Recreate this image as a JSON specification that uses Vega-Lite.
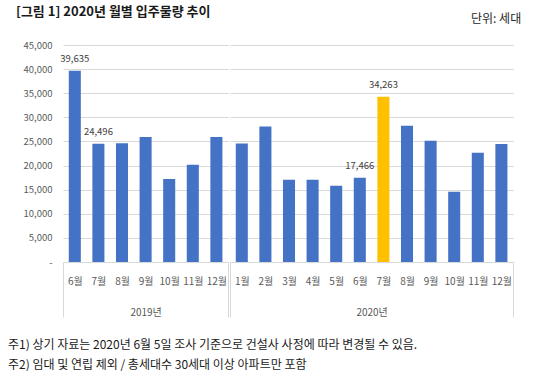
{
  "$schema": "https://vega.github.io/schema/vega-lite/v6.json",
  "background": "white",
  "padding": {"left": 8, "top": 6, "right": 0, "bottom": 0},
  "datasets": {
    "months": [
      {"year": "2019년", "key": "2019-06", "value": 39635, "group": "normal", "annotated": true},
      {"year": "2019년", "key": "2019-07", "value": 24496, "group": "normal", "annotated": true},
      {"year": "2019년", "key": "2019-08", "value": 24600, "group": "normal", "annotated": false},
      {"year": "2019년", "key": "2019-09", "value": 25900, "group": "normal", "annotated": false},
      {"year": "2019년", "key": "2019-10", "value": 17200, "group": "normal", "annotated": false},
      {"year": "2019년", "key": "2019-11", "value": 20150, "group": "normal", "annotated": false},
      {"year": "2019년", "key": "2019-12", "value": 25900, "group": "normal", "annotated": false},
      {"year": "2020년", "key": "2020-01", "value": 24550, "group": "normal", "annotated": false},
      {"year": "2020년", "key": "2020-02", "value": 28100, "group": "normal", "annotated": false},
      {"year": "2020년", "key": "2020-03", "value": 17050, "group": "normal", "annotated": false},
      {"year": "2020년", "key": "2020-04", "value": 17050, "group": "normal", "annotated": false},
      {"year": "2020년", "key": "2020-05", "value": 15800, "group": "normal", "annotated": false},
      {"year": "2020년", "key": "2020-06", "value": 17466, "group": "normal", "annotated": true},
      {"year": "2020년", "key": "2020-07", "value": 34263, "group": "current", "annotated": true},
      {"year": "2020년", "key": "2020-08", "value": 28250, "group": "normal", "annotated": false},
      {"year": "2020년", "key": "2020-09", "value": 25150, "group": "normal", "annotated": false},
      {"year": "2020년", "key": "2020-10", "value": 14550, "group": "normal", "annotated": false},
      {"year": "2020년", "key": "2020-11", "value": 22650, "group": "normal", "annotated": false},
      {"year": "2020년", "key": "2020-12", "value": 24450, "group": "normal", "annotated": false}
    ]
  },
  "title": {
    "text": [
      "주1) 상기 자료는 2020년 6월 5일 조사 기준으로 건설사 사정에 따라 변경될 수 있음.",
      "주2) 임대 및 연립 제외 / 총세대수 30세대 이상 아파트만 포함"
    ],
    "orient": "bottom",
    "anchor": "start",
    "frame": "bounds",
    "dx": -8,
    "offset": 22,
    "fontSize": 12,
    "fontWeight": "normal",
    "lineHeight": 20.5,
    "color": "#1a1a1a",
    "font": "Noto Sans CJK KR"
  },
  "spacing": 0,
  "hconcat": [
    {
      "data": {"name": "months"},
      "transform": [{"filter": "datum.year === '2019년'"}],
      "width": 165.2,
      "height": 217,
      "title": {
        "text": "[그림 1] 2020년 월별 입주물량 추이",
        "anchor": "start",
        "frame": "group",
        "fontSize": 13,
        "fontWeight": "bold",
        "color": "#1a1a1a",
        "font": "Noto Sans CJK KR",
        "dx": -47,
        "offset": 21
      },
      "encoding": {
        "x": {
          "field": "key",
          "type": "ordinal",
          "scale": {"paddingInner": 0, "paddingOuter": 0},
          "axis": {
            "title": "2019년",
            "titleY": 50,
            "titleBaseline": "middle",
            "titleFontSize": 10,
            "titleFontWeight": "normal",
            "titleColor": "#595959",
            "titleFont": "Noto Sans CJK KR",
            "labelAngle": 0,
            "labelExpr": "datum.value ? toNumber(slice(datum.value, 5)) + '월' : ''",
            "tickBand": "extent",
            "tickSize": 55,
            "tickColor": {"condition": {"test": "datum.extra || datum.value === '2019-12' || datum.value === '2020-12'", "value": "#d9d9d9"}, "value": "transparent"},
            "labelPadding": -40.5,
            "domainColor": "#d9d9d9",
            "labelFontSize": 10,
            "labelColor": "#595959",
            "labelFont": "Noto Sans CJK KR",
            "grid": false
          }
        },
        "y": {
          "field": "value",
          "type": "quantitative",
          "scale": {"domain": [0, 45000], "nice": false},
          "axis": {
            "title": null,
            "values": [0, 5000, 10000, 15000, 20000, 25000, 30000, 35000, 40000, 45000],
            "labelExpr": "datum.value === 0 ? '-' : format(datum.value, ',')",
            "domain": false,
            "ticks": false,
            "gridColor": "#d9d9d9",
            "labelPadding": 11,
            "labelFontSize": 9.5,
            "labelColor": "#595959",
            "labelFont": "Noto Sans CJK KR"
          }
        }
      },
      "layer": [
        {
          "mark": {"type": "bar", "width": {"band": 0.51}},
          "encoding": {
            "color": {
              "field": "group",
              "type": "nominal",
              "scale": {"domain": ["normal", "current"], "range": ["#4472C4", "#FFC000"]},
              "legend": null
            }
          }
        },
        {
          "transform": [{"filter": "datum.annotated"}],
          "mark": {"type": "text", "baseline": "middle", "dy": -12, "fontSize": 9.5, "color": "#404040", "font": "Noto Sans CJK KR"},
          "encoding": {
            "text": {"field": "value", "type": "quantitative", "format": ","}
          }
        }
      ]
    },
    {
      "data": {"name": "months"},
      "transform": [{"filter": "datum.year === '2020년'"}],
      "width": 283.2,
      "height": 217,
      "title": {
        "text": "단위: 세대",
        "anchor": "end",
        "frame": "group",
        "fontSize": 12,
        "fontWeight": "normal",
        "color": "#262626",
        "font": "Noto Sans CJK KR",
        "dx": 8,
        "offset": 19
      },
      "encoding": {
        "x": {
          "field": "key",
          "type": "ordinal",
          "scale": {"paddingInner": 0, "paddingOuter": 0},
          "axis": {
            "title": "2020년",
            "titleY": 50,
            "titleBaseline": "middle",
            "titleFontSize": 10,
            "titleFontWeight": "normal",
            "titleColor": "#595959",
            "titleFont": "Noto Sans CJK KR",
            "labelAngle": 0,
            "labelExpr": "datum.value ? toNumber(slice(datum.value, 5)) + '월' : ''",
            "tickBand": "extent",
            "tickSize": 55,
            "tickColor": {"condition": {"test": "datum.extra || datum.value === '2019-12' || datum.value === '2020-12'", "value": "#d9d9d9"}, "value": "transparent"},
            "labelPadding": -40.5,
            "domainColor": "#d9d9d9",
            "labelFontSize": 10,
            "labelColor": "#595959",
            "labelFont": "Noto Sans CJK KR",
            "grid": false
          }
        },
        "y": {
          "field": "value",
          "type": "quantitative",
          "scale": {"domain": [0, 45000], "nice": false},
          "axis": {
            "title": null,
            "values": [0, 5000, 10000, 15000, 20000, 25000, 30000, 35000, 40000, 45000],
            "labels": false,
            "domain": false,
            "ticks": false,
            "gridColor": "#d9d9d9"
          }
        }
      },
      "layer": [
        {
          "mark": {"type": "bar", "width": {"band": 0.51}},
          "encoding": {
            "color": {
              "field": "group",
              "type": "nominal",
              "scale": {"domain": ["normal", "current"], "range": ["#4472C4", "#FFC000"]},
              "legend": null
            }
          }
        },
        {
          "transform": [{"filter": "datum.annotated"}],
          "mark": {"type": "text", "baseline": "middle", "dy": -12, "fontSize": 9.5, "color": "#404040", "font": "Noto Sans CJK KR"},
          "encoding": {
            "text": {"field": "value", "type": "quantitative", "format": ","}
          }
        }
      ]
    }
  ],
  "config": {
    "view": {"stroke": null},
    "font": "Noto Sans CJK KR"
  }
}
